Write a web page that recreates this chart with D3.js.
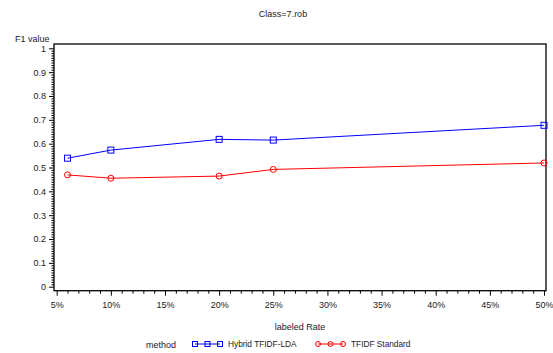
<!DOCTYPE html>
<html><head><meta charset="utf-8">
<script src="https://cdn.jsdelivr.net/npm/d3@7"></script>
<style>body{margin:0;background:#fff}text{font-family:"Liberation Sans",Arial,sans-serif;fill:#222}</style>
</head><body>
<svg id="c" width="553" height="353"></svg>
<script>
const rates = [6, 10, 20, 25, 50];
const hybrid = [0.539, 0.573, 0.618, 0.615, 0.677];
const standard = [0.469, 0.455, 0.464, 0.492, 0.519];
const xTicks = [5, 10, 15, 20, 25, 30, 35, 40, 45, 50];
const yTicks = [0, 0.1, 0.2, 0.3, 0.4, 0.5, 0.6, 0.7, 0.8, 0.9, 1];
const seriesNames = ["Hybrid TFIDF-LDA", "TFIDF Standard"];

const svg = d3.select("#c");
const x = d3.scaleLinear().domain([5, 50]).range([56.7, 544]);
const y = d3.scaleLinear().domain([0, 1]).range([286.7, 48.3]);
const frame = {l: 54, r: 546, t: 44, b: 290.7};

// frame
svg.append("rect").attr("x", frame.l).attr("y", frame.t)
  .attr("width", frame.r - frame.l).attr("height", frame.b - frame.t)
  .attr("fill", "none").attr("stroke", "#000").attr("stroke-width", 1.3);

// y axis
const yAxis = d3.axisLeft(y).tickValues(yTicks).tickFormat(d => d3.format("")(+d.toFixed(1))).tickSize(5).tickPadding(3);
const yg = svg.append("g").attr("transform", `translate(${frame.l},0)`).call(yAxis);
yg.select(".domain").remove();
yg.selectAll("text").style("font-size", "9px");
const yMinor = d3.range(0, 101).map(i => i / 100).filter(v => Math.round(v * 100) % 10 !== 0);
svg.append("g").attr("transform", `translate(${frame.l},0)`)
  .call(d3.axisLeft(y).tickValues(yMinor).tickSize(2.5).tickFormat(""))
  .select(".domain").remove();

// x axis
const xAxis = d3.axisBottom(x).tickValues(xTicks).tickFormat(d => d + "%").tickSize(5).tickPadding(6);
const xg = svg.append("g").attr("transform", `translate(0,${frame.b})`).call(xAxis);
xg.select(".domain").remove();
xg.selectAll("text").style("font-size", "9px");
const xMinor = d3.range(5, 51).filter(v => v % 5 !== 0);
svg.append("g").attr("transform", `translate(0,${frame.b})`)
  .call(d3.axisBottom(x).tickValues(xMinor).tickSize(3).tickFormat(""))
  .select(".domain").remove();

// titles
svg.append("text").attr("x", 283).attr("y", 17).attr("text-anchor", "middle").style("font-size", "9px").text("Class=7.rob");
svg.append("text").attr("x", 15).attr("y", 42).style("font-size", "9px").text("F1 value");
svg.append("text").attr("x", 300).attr("y", 330).attr("text-anchor", "middle").style("font-size", "9px").text("labeled Rate");

// series
const series = [
  {name: seriesNames[0], vals: hybrid, color: "#0000ff", shape: "square"},
  {name: seriesNames[1], vals: standard, color: "#ff0000", shape: "circle"}
];
const line = d3.line().x(d => x(d[0])).y(d => y(d[1]));
function marker(g, cx, cy, s, color, sz) {
  if (s === "square") {
    g.append("rect").attr("x", cx - sz / 2).attr("y", cy - sz / 2).attr("width", sz).attr("height", sz)
      .attr("fill", "none").attr("stroke", color).attr("stroke-width", 1);
  } else {
    g.append("circle").attr("cx", cx).attr("cy", cy).attr("r", sz / 2)
      .attr("fill", "none").attr("stroke", color).attr("stroke-width", 1);
  }
}
series.forEach(s => {
  const pts = rates.map((r, i) => [r, s.vals[i]]);
  svg.append("path").attr("d", line(pts)).attr("fill", "none").attr("stroke", s.color).attr("stroke-width", 1);
  const g = svg.append("g");
  pts.forEach(p => marker(g, x(p[0]), y(p[1]), s.shape, s.color, 6));
});

// legend
svg.append("text").attr("x", 146).attr("y", 348).style("font-size", "9px").text("method");
const legX = [195, 318];
series.forEach((s, i) => {
  const g = svg.append("g");
  const x0 = legX[i], ly = 344;
  g.append("line").attr("x1", x0).attr("x2", x0 + 25).attr("y1", ly).attr("y2", ly).attr("stroke", s.color);
  [0, 12.5, 25].forEach(dx => marker(g, x0 + dx, ly, s.shape, s.color, 5));
  g.append("text").attr("x", x0 + 33).attr("y", ly + 3).style("font-size", "8.3px").text(s.name);
});
</script>
</body></html>
